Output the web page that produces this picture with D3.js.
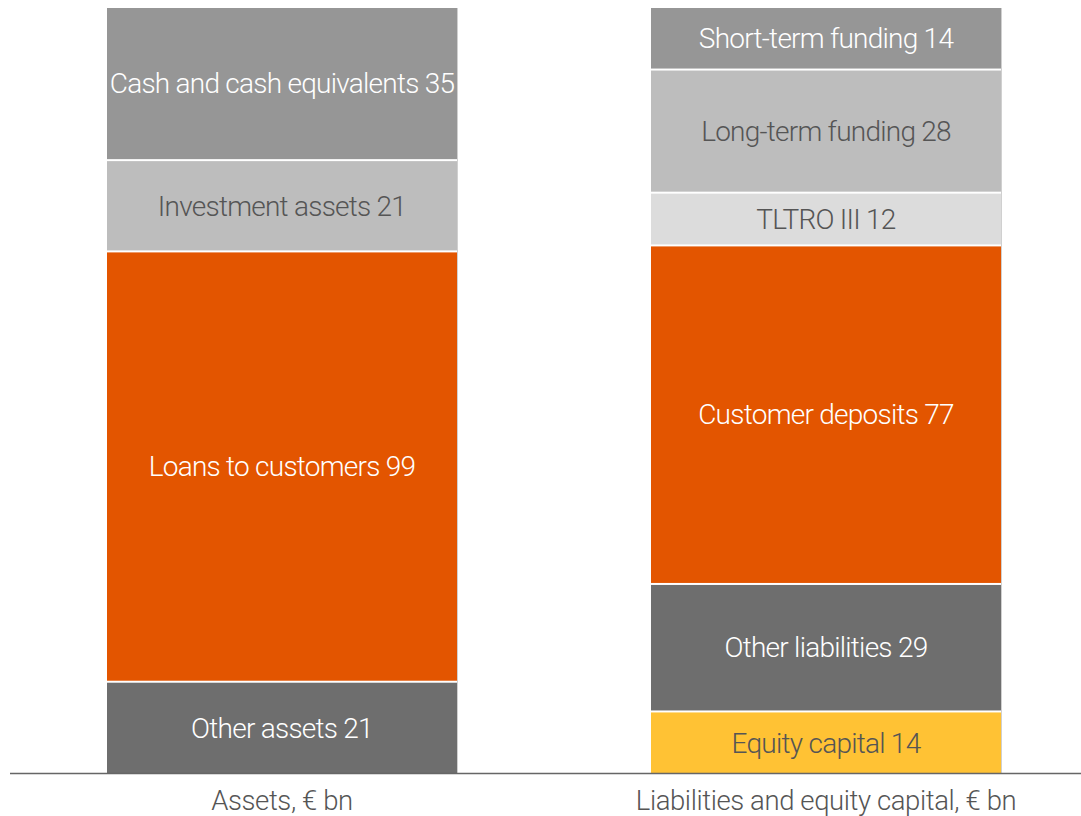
<!DOCTYPE html>
<html>
<head>
<meta charset="utf-8">
<script src="https://cdn.jsdelivr.net/npm/d3@7"></script>
<style>
  html, body { margin: 0; padding: 0; background: #fff; }
  svg text { font-family: Roboto, "Open Sans", sans-serif; font-weight: 300; }
</style>
</head>
<body>
<svg id="chart" width="1081" height="816"></svg>
<script>
// Balance sheet, € bn (segments listed bottom to top)
const barNames = ["Assets, € bn", "Liabilities and equity capital, € bn"];

const assetLabels = ["Other assets", "Loans to customers", "Investment assets", "Cash and cash equivalents"];
const assetValues = [21, 99, 21, 35];

const liabilityLabels = ["Equity capital", "Other liabilities", "Customer deposits", "TLTRO III", "Long-term funding", "Short-term funding"];
const liabilityValues = [14, 29, 77, 12, 28, 14];

const assetColors = ["#6e6e6e", "#e35500", "#bdbdbd", "#969696"];
const liabilityColors = ["#ffc234", "#6e6e6e", "#e35500", "#dcdcdc", "#bdbdbd", "#969696"];
const assetTextColors = ["#ffffff", "#ffffff", "#555555", "#ffffff"];
const liabilityTextColors = ["#555555", "#ffffff", "#ffffff", "#555555", "#555555", "#ffffff"];

const svg = d3.select("#chart");
const baseY = 773, topY = 8;

const x = d3.scaleBand().domain(barNames).range([-1.8, 1109.8]).paddingInner(0.3566).paddingOuter(0.2);

// Both sides of a balance sheet total the same, so each column is shown as shares of its own total
const y = d3.scaleLinear().domain([0, 1]).range([baseY, topY]);

function stackColumn(labels, values) {
  const row = {};
  labels.forEach((l, i) => row[l] = values[i]);
  return d3.stack().keys(labels).offset(d3.stackOffsetExpand)([row]);
}

const columns = [
  { name: barNames[0], series: stackColumn(assetLabels, assetValues), values: assetValues, colors: assetColors, text: assetTextColors },
  { name: barNames[1], series: stackColumn(liabilityLabels, liabilityValues), values: liabilityValues, colors: liabilityColors, text: liabilityTextColors }
];

const gap = 2;
columns.forEach(col => {
  const g = svg.append("g");
  const bw = x.bandwidth();
  const x0 = x(col.name);
  col.series.forEach((s, i) => {
    const y0 = y(s[0][0]), y1 = y(s[0][1]);
    const top = y1 + (i === col.series.length - 1 ? 0 : gap / 2);
    const bottom = y0 - (i === 0 ? 0 : gap / 2);
    g.append("rect")
      .attr("x", x0).attr("width", bw)
      .attr("y", top).attr("height", Math.max(0, bottom - top))
      .attr("fill", col.colors[i]);
    g.append("text")
      .attr("x", x0 + bw / 2)
      .attr("y", (top + bottom) / 2)
      .attr("dy", "0.35em")
      .attr("text-anchor", "middle")
      .attr("font-size", 28)
      .attr("letter-spacing", -0.75)
      .attr("fill", col.text[i])
      .text(`${s.key} ${col.values[i]}`);
  });
  // thin light edge on the right side of each column
  g.append("line")
    .attr("x1", x0 + bw + 0.5).attr("x2", x0 + bw + 0.5)
    .attr("y1", topY).attr("y2", baseY)
    .attr("stroke", "#d0d0d0").attr("stroke-width", 1);
});

// baseline and category labels
const axis = d3.axisBottom(x).tickSize(0).tickPadding(17);
const axisG = svg.append("g").attr("transform", `translate(0,${baseY})`).call(axis);
axisG.select(".domain").remove();
axisG.append("line").attr("x1", 10).attr("x2", 1081).attr("y1", 0.5).attr("y2", 0.5)
  .attr("stroke", "#666").attr("stroke-width", 1.5);
axisG.selectAll(".tick text")
  .attr("font-size", 27.5)
  .attr("letter-spacing", -0.4)
  .attr("fill", "#555")
  .style("font-family", "Roboto, 'Open Sans', sans-serif")
  .style("font-weight", 300);
</script>
</body>
</html>
